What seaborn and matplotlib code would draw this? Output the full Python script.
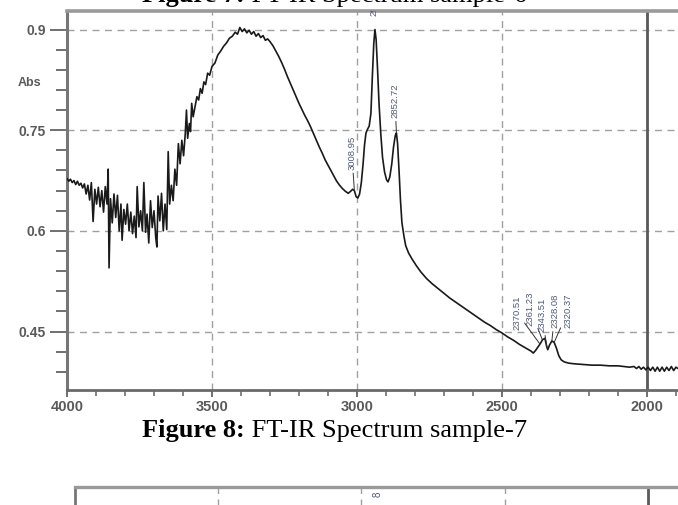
import numpy as np
import pandas as pd
import seaborn as sns
import matplotlib.pyplot as plt
from matplotlib.ticker import MultipleLocator, FixedLocator

# spectrum (wavenumber in cm-1, absorbance)
wavenumber = [
    4000, 3994, 3988, 3982, 3976, 3970, 3964, 3958, 3952, 3946,
    3940, 3934, 3928, 3922, 3916, 3910, 3904, 3898, 3892, 3886,
    3880, 3874, 3868, 3862, 3858, 3855, 3850, 3844, 3838, 3832,
    3826, 3820, 3814, 3810, 3804, 3798, 3792, 3786, 3780, 3774,
    3768, 3762, 3758, 3752, 3746, 3740, 3735, 3729, 3724, 3718,
    3712, 3706, 3700, 3694, 3690, 3686, 3680, 3674, 3668, 3662,
    3656, 3651, 3646, 3640, 3634, 3628, 3622, 3616, 3610, 3604,
    3598, 3592, 3588, 3584, 3578, 3574, 3570, 3565, 3558, 3552,
    3546, 3540, 3534, 3528, 3522, 3515, 3508, 3500, 3490, 3480,
    3470, 3460, 3450, 3440, 3430, 3420, 3412, 3404, 3396, 3388,
    3380, 3372, 3364, 3356, 3348, 3340, 3332, 3324, 3316, 3308,
    3300, 3290, 3280, 3270, 3260, 3250, 3240, 3230, 3220, 3210,
    3200, 3190, 3180, 3170, 3160, 3150, 3140, 3130, 3120, 3110,
    3100, 3090, 3080, 3070, 3060, 3050, 3040, 3030, 3022, 3015,
    3009, 3003, 2997, 2991, 2985, 2979, 2974, 2969, 2963, 2958,
    2952, 2947, 2942, 2938, 2934, 2929, 2924, 2918, 2912, 2905,
    2898, 2893, 2887, 2880, 2874, 2868, 2864, 2860, 2855, 2850,
    2845, 2838, 2832, 2822, 2810, 2795, 2780, 2760, 2740, 2720,
    2700, 2680, 2660, 2640, 2620, 2600, 2580, 2560, 2540, 2520,
    2500, 2480, 2460, 2440, 2420, 2400, 2392, 2384, 2376, 2368,
    2360, 2352, 2346, 2342, 2336, 2328, 2320, 2312, 2304, 2296,
    2286, 2270, 2250, 2220, 2190, 2160, 2130, 2100, 2080, 2060,
    2045, 2036, 2028, 2020, 2012, 2004, 1996, 1988, 1980, 1972,
    1964, 1956, 1948, 1940, 1932, 1924, 1916, 1908, 1900, 1893,
]
absorbance = [
    0.678, 0.674, 0.677, 0.672, 0.675, 0.669, 0.674, 0.668, 0.671, 0.664,
    0.670, 0.655, 0.668, 0.646, 0.672, 0.614, 0.662, 0.640, 0.665, 0.636,
    0.660, 0.628, 0.666, 0.640, 0.692, 0.545, 0.648, 0.612, 0.655, 0.620,
    0.653, 0.600, 0.640, 0.586, 0.632, 0.610, 0.640, 0.600, 0.628, 0.596,
    0.622, 0.590, 0.666, 0.606, 0.630, 0.600, 0.672, 0.598, 0.625, 0.582,
    0.645, 0.605, 0.630, 0.590, 0.576, 0.652, 0.615, 0.656, 0.600, 0.640,
    0.602, 0.718, 0.640, 0.668, 0.645, 0.692, 0.668, 0.730, 0.700, 0.735,
    0.712, 0.746, 0.780, 0.738, 0.760, 0.748, 0.790, 0.770, 0.786, 0.800,
    0.795, 0.812, 0.805, 0.822, 0.818, 0.835, 0.832, 0.845, 0.850, 0.862,
    0.868, 0.875, 0.880, 0.887, 0.890, 0.896, 0.893, 0.903, 0.897, 0.901,
    0.895, 0.899, 0.893, 0.897, 0.890, 0.894, 0.888, 0.891, 0.884, 0.886,
    0.882, 0.876, 0.868, 0.860, 0.851, 0.841, 0.830, 0.820, 0.810, 0.800,
    0.790, 0.781, 0.772, 0.764, 0.755, 0.745, 0.735, 0.725, 0.716, 0.706,
    0.698, 0.690, 0.682, 0.674, 0.668, 0.663, 0.659, 0.656, 0.659, 0.662,
    0.660, 0.651, 0.649, 0.655, 0.672, 0.700, 0.728, 0.746, 0.752, 0.756,
    0.775, 0.830, 0.880, 0.900, 0.885, 0.840, 0.790, 0.745, 0.710, 0.688,
    0.676, 0.673, 0.680, 0.700, 0.725, 0.742, 0.746, 0.730, 0.690, 0.645,
    0.612, 0.592, 0.578, 0.567, 0.558, 0.548, 0.539, 0.529, 0.521, 0.514,
    0.507, 0.500, 0.494, 0.488, 0.482, 0.476, 0.470, 0.464, 0.459, 0.453,
    0.448, 0.442, 0.437, 0.431, 0.426, 0.421, 0.418, 0.422, 0.427, 0.432,
    0.438, 0.440, 0.428, 0.423, 0.430, 0.436, 0.434, 0.425, 0.414, 0.408,
    0.405, 0.403, 0.402, 0.401, 0.400, 0.400, 0.399, 0.399, 0.398, 0.397,
    0.398, 0.395, 0.398, 0.394, 0.397, 0.393, 0.397, 0.392, 0.397, 0.391,
    0.397, 0.391, 0.397, 0.391, 0.397, 0.392, 0.398, 0.392, 0.397, 0.395,
]

# peak labels: text, label x, label bottom y, target x, target y
peak_text = ["3008.95", "2852.72", "2370.51", "2361.23", "2343.51", "2328.08", "2320.37"]
peak_label_x = [3018, 2869, 2449, 2403, 2363, 2317, 2271]
peak_label_y = [0.691, 0.768, 0.453, 0.459, 0.449, 0.455, 0.456]
peak_x = [3009, 2864, 2370, 2361, 2344, 2328, 2320]
peak_y = [0.660, 0.746, 0.432, 0.438, 0.425, 0.436, 0.434]

x_ticks = [4000, 3500, 3000, 2500, 2000]
y_ticks = [0.45, 0.6, 0.75, 0.9]
y_tick_labels = ["0.45", "0.6", "0.75", "0.9"]

sns.set_theme(style="white")
plt.rcParams['font.family'] = ['Liberation Sans', 'DejaVu Sans']

W, H = 678, 505
fig = plt.figure(figsize=(W / 100, H / 100), dpi=100)
ax = fig.add_axes([67 / W, 1 - 390 / H, (W - 67) / W, (390 - 11) / H])

df = pd.DataFrame({"wn": wavenumber, "abs": absorbance})
sns.lineplot(data=df, x="wn", y="abs", ax=ax, color="#1a1a1a", lw=1.2, sort=False, zorder=3)

ax.set_xlim(4000, 1893)
ax.set_ylim(0.363, 0.9276)
ax.set_xlabel("")
ax.set_ylabel("")

ax.xaxis.set_major_locator(FixedLocator(x_ticks))
ax.xaxis.set_minor_locator(MultipleLocator(100))
ax.yaxis.set_major_locator(FixedLocator(y_ticks))
ax.set_yticklabels(y_tick_labels)
ax.yaxis.set_minor_locator(FixedLocator(np.arange(0.39, 0.92, 0.03)))

ax.tick_params(axis="y", which="major", direction="out", length=12, width=1.4,
               color="#707070", labelsize=10, labelcolor="#5a5a5a", pad=3, left=True)
ax.tick_params(axis="y", which="minor", direction="out", length=8, width=1.4,
               color="#707070", left=True)
ax.tick_params(axis="x", which="major", direction="out", length=5, width=1.4,
               color="#707070", labelsize=10.5, labelcolor="#5a5a5a", pad=2, bottom=True)
ax.tick_params(axis="x", which="minor", direction="out", length=4, width=1.2,
               color="#707070", bottom=True)
for lab in ax.get_xticklabels() + ax.get_yticklabels():
    lab.set_fontweight("bold")

for side, col, lw in [("left", "#767676", 2.2), ("bottom", "#6a6a6a", 2.0), ("top", "#9a9a9a", 2.6)]:
    ax.spines[side].set_color(col)
    ax.spines[side].set_linewidth(lw)
ax.spines["right"].set_visible(False)

ax.grid(True, which="major", linestyle=(0, (5, 4)), color="#a0a0a0", lw=1.0)
ax.axvline(2000, color="#5a5a5a", lw=2.0, zorder=2)

# peak annotations
narrow = ["Liberation Sans Narrow", "Liberation Sans"]
for t, lx, ly, px, py in zip(peak_text, peak_label_x, peak_label_y, peak_x, peak_y):
    ax.annotate(t, xy=(px, py), xytext=(lx, ly), rotation=90, ha="center", va="bottom",
                fontsize=6.8, color="#4d5a78", family=narrow,
                arrowprops=dict(arrowstyle="-", color="#333333", lw=0.7,
                                shrinkA=0, shrinkB=0))
ax.text(2940, 0.9195, "2922.54", rotation=90, ha="center", va="bottom", fontsize=6.8,
        color="#4d5a78", clip_on=True, family=narrow)

fig.text(30 / W, 1 - 83 / H, "Abs", ha="center", va="center", fontsize=9,
         color="#5a5a5a", fontweight="bold")

# captions (serif, like the document)
serif = ["Liberation Serif", "DejaVu Serif"]
fig.text(245 / W, 1 - 437 / H, "Figure 8:", ha="right", va="baseline", fontsize=19,
         fontweight="bold", family=serif, color="black")
fig.text(245 / W, 1 - 437 / H, " FT-IR Spectrum sample-7", ha="left", va="baseline",
         fontsize=19, family=serif, color="black")
fig.text(245 / W, 1 - 2 / H, "Figure 7:", ha="right", va="baseline", fontsize=19,
         fontweight="bold", family=serif, color="black")
fig.text(245 / W, 1 - 2 / H, " FT-IR Spectrum sample-6", ha="left", va="baseline",
         fontsize=19, family=serif, color="black")

# top of the next chart on the page
ax2 = fig.add_axes([75 / W, -0.1, (W - 75) / W, (505 - 487) / H + 0.1])
ax2.set_xlim(4000, 1895)
ax2.set_ylim(0, 1)
ax2.set_xticks([3500, 3000, 2500])
ax2.set_yticks([])
ax2.tick_params(axis="x", length=0, labelbottom=False)
ax2.grid(True, axis="x", linestyle=(0, (5, 4)), color="#a0a0a0", lw=1.0)
ax2.axvline(2000, color="#5a5a5a", lw=2.0)
for side in ["right", "bottom"]:
    ax2.spines[side].set_visible(False)
ax2.spines["top"].set_color("#9a9a9a")
ax2.spines["top"].set_linewidth(2.4)
ax2.spines["left"].set_color("#767676")
ax2.spines["left"].set_linewidth(2.0)
ax2.text(2943, 0.93, "8", rotation=90, ha="center", va="top", fontsize=7, color="#4d5a78")

fig.savefig("out.png", dpi=100)
